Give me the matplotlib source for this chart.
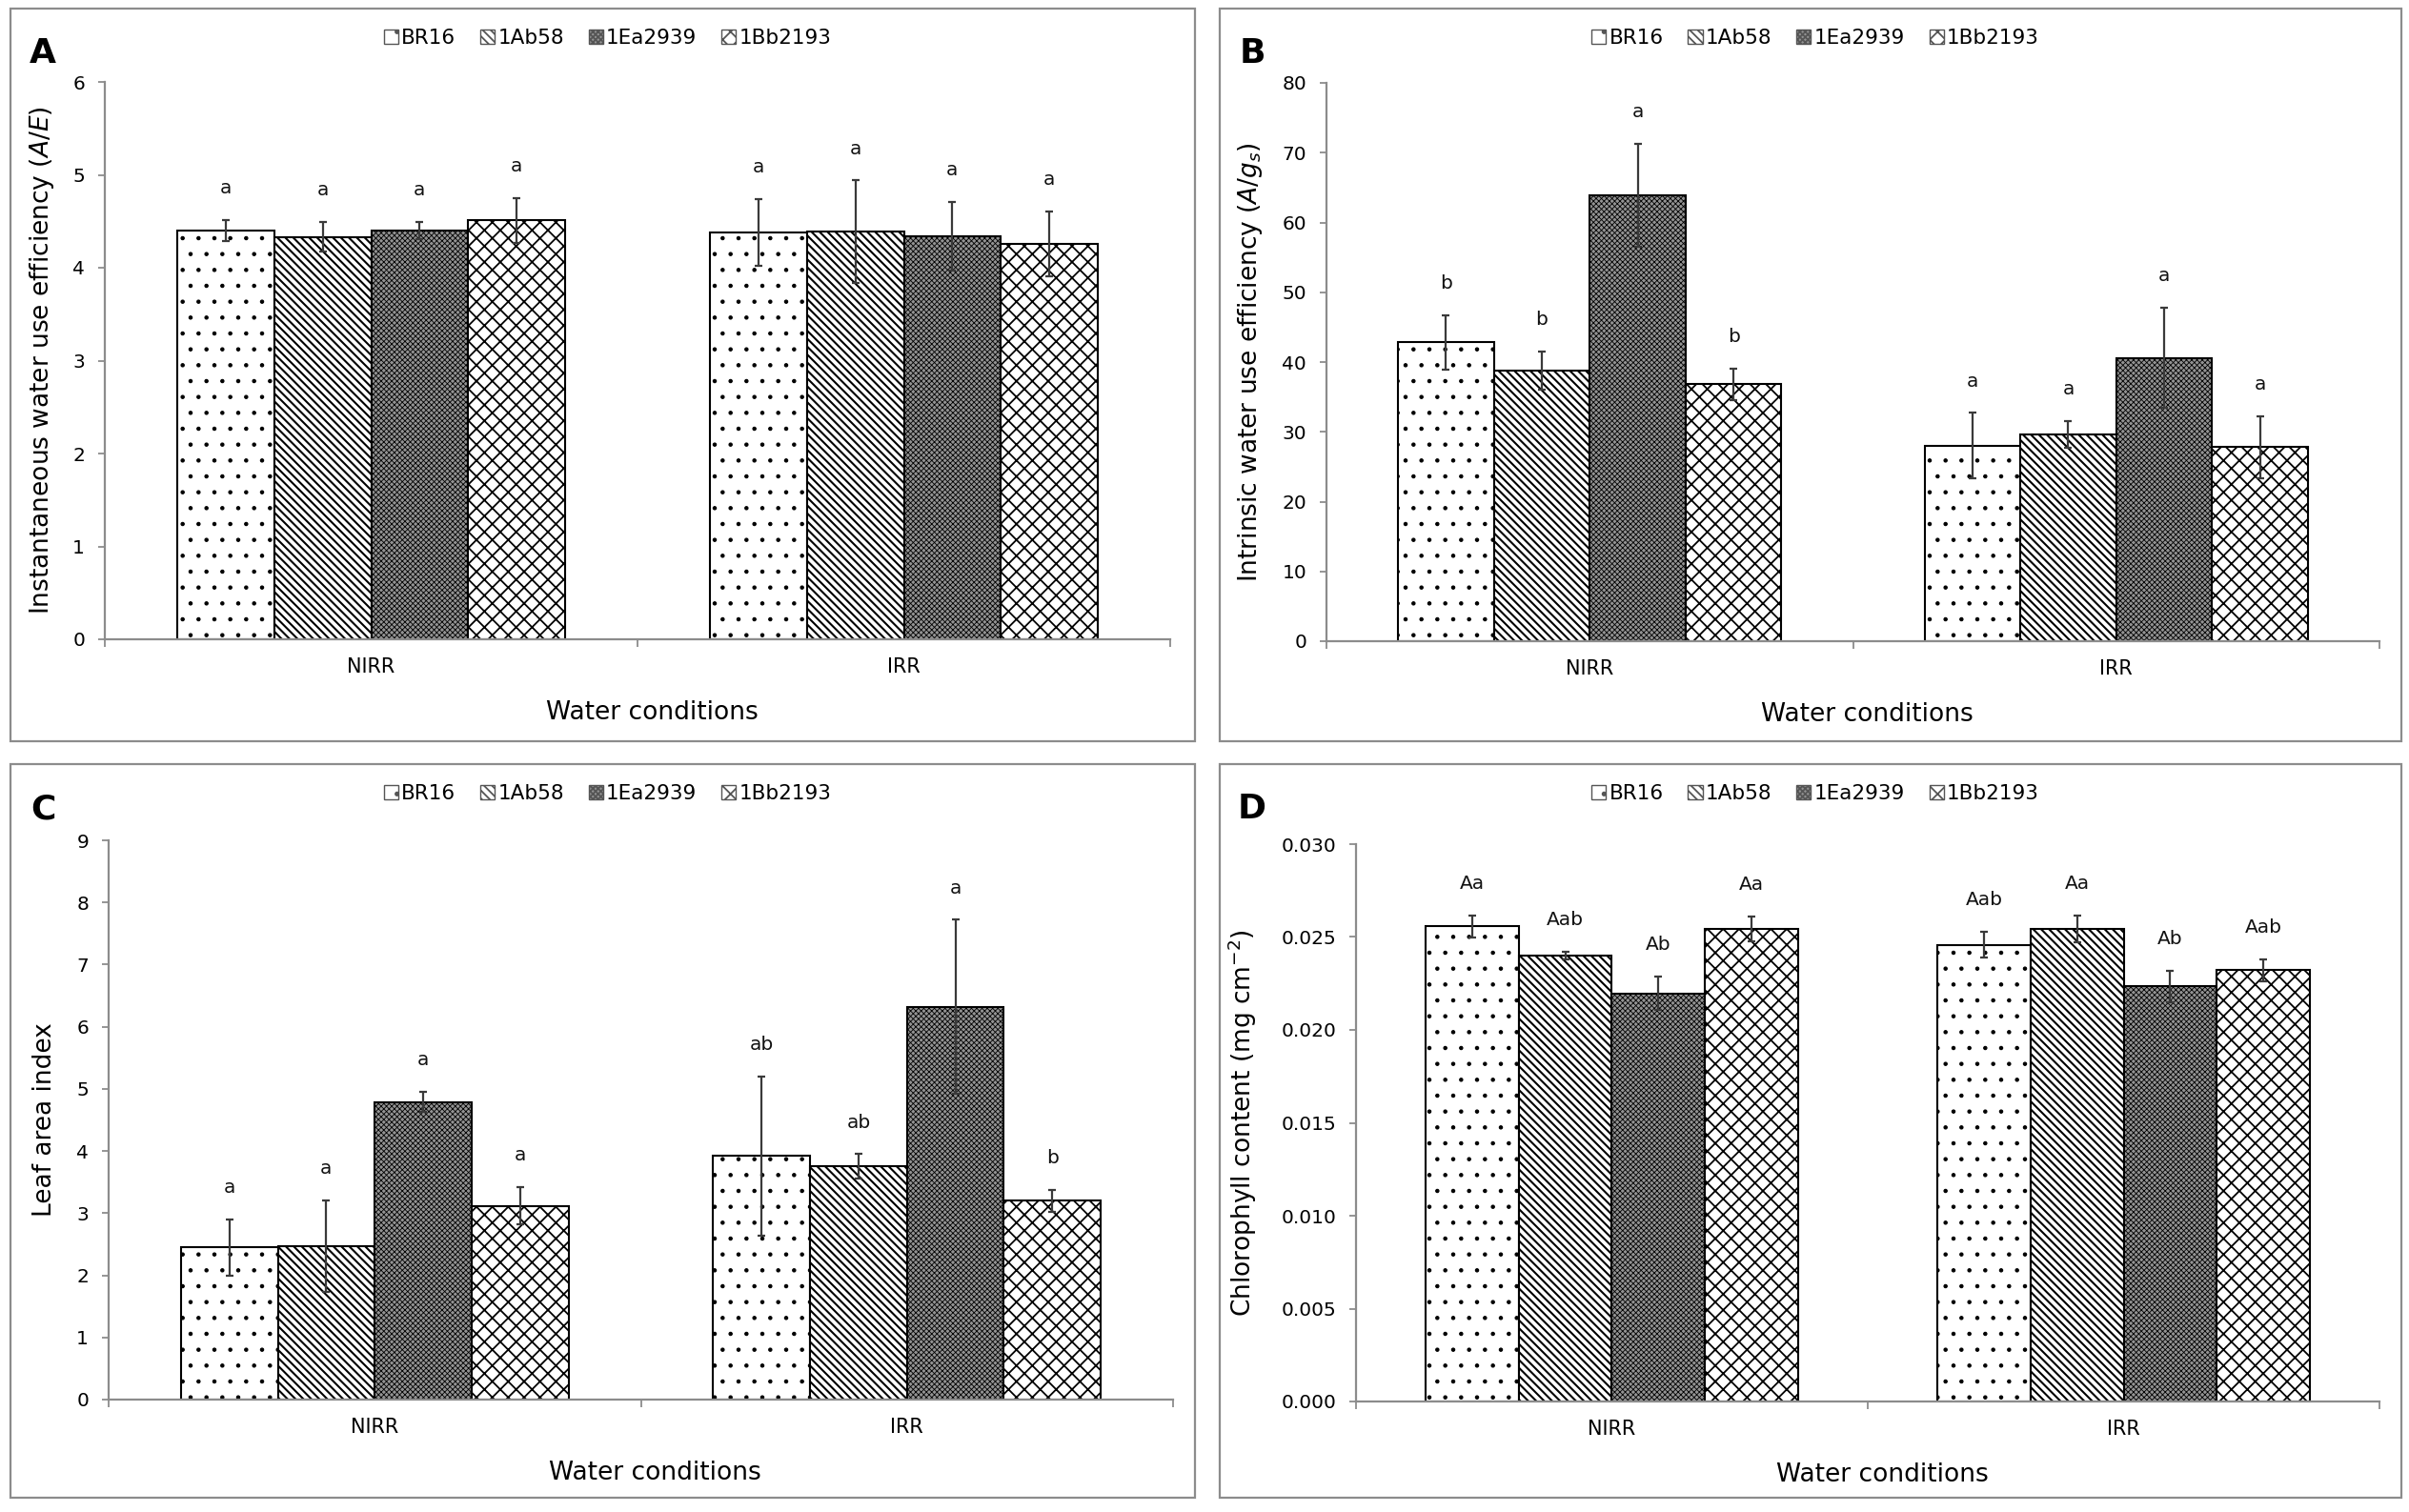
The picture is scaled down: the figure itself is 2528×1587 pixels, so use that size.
import numpy as np
import matplotlib
matplotlib.use('Agg')
import matplotlib.pyplot as plt
from matplotlib.patches import Patch, Rectangle

plt.rcParams['font.family'] = ['DejaVu Sans']
plt.rcParams['mathtext.fontset'] = 'dejavusans'

genotypes = ['BR16', '1Ab58', '1Ea2939', '1Bb2193']
conditions = ['NIRR', 'IRR']

# A - instantaneous WUE, rows = NIRR, IRR
inst_mean = [[4.40, 4.33, 4.40, 4.51], [4.38, 4.39, 4.34, 4.26]]
inst_err = [[0.11, 0.16, 0.09, 0.24], [0.36, 0.55, 0.37, 0.35]]
inst_lett = [['a', 'a', 'a', 'a'], ['a', 'a', 'a', 'a']]

# B - intrinsic WUE
intr_mean = [[42.8, 38.8, 63.9, 36.8], [28.0, 29.6, 40.6, 27.8]]
intr_err = [[3.9, 2.7, 7.4, 2.3], [4.7, 1.9, 7.2, 4.4]]
intr_lett = [['b', 'b', 'a', 'b'], ['a', 'a', 'a', 'a']]

# C - leaf area index
lai_mean = [[2.45, 2.47, 4.79, 3.12], [3.92, 3.75, 6.32, 3.20]]
lai_err = [[0.45, 0.73, 0.16, 0.30], [1.28, 0.20, 1.40, 0.18]]
lai_lett = [['a', 'a', 'a', 'a'], ['ab', 'ab', 'a', 'b']]

# D - chlorophyll
chl_mean = [[0.02557, 0.0240, 0.02196, 0.02544], [0.02458, 0.02544, 0.02235, 0.02321]]
chl_err = [[0.0006, 0.0002, 0.0009, 0.00065], [0.0007, 0.0007, 0.00085, 0.0006]]
chl_lett = [['Aa', 'Aab', 'Ab', 'Aa'], ['Aab', 'Aa', 'Ab', 'Aab']]

W, H = 2528, 1587
fig = plt.figure(figsize=(W / 100, H / 100), dpi=100)

def fx(px):
    return px / W

def fy(py):
    return 1 - py / H

hatches = ['.', '\\\\\\\\', 'xxxxxx', 'xx']
faces = ['white', 'white', '#939393', 'white']
hatch_lw = [0.8, 1.5, 0.6, 1.3]
gray = '#8c8c8c'
w = 0.182

def set_hlw(artists, lw):
    for a in artists:
        if hasattr(a, 'set_hatch_linewidth'):
            a.set_hatch_linewidth(lw)

def panel(box, axpx, letter, mean, err, lett, ymax, ystep, ylabel, yfmt, ylab_x):
    x0, y0, x1, y1 = box
    fig.add_artist(Rectangle((fx(x0), fy(y1)), fx(x1) - fx(x0), fy(y0) - fy(y1),
                             transform=fig.transFigure, fill=False, edgecolor=gray, lw=1.6))
    l, t, r, b = axpx
    ax = fig.add_axes([fx(l), fy(b), fx(r) - fx(l), fy(t) - fy(b)])
    for j in range(4):
        x = np.arange(2) + (j - 1.5) * w
        h = [mean[0][j], mean[1][j]]
        e = [err[0][j], err[1][j]]
        plt.rcParams['hatch.linewidth'] = hatch_lw[j]
        bars = ax.bar(x, h, w, color=faces[j], edgecolor='black', hatch=hatches[j], lw=1.5, zorder=2)
        set_hlw(bars, hatch_lw[j])
        ax.errorbar(x, h, yerr=e, fmt='none', ecolor='#3a3a3a', elinewidth=1.6,
                    capsize=3, capthick=1.6, zorder=3)
        for k in range(2):
            ax.annotate(lett[k][j], (x[k], h[k] + e[k]), xytext=(0, 24),
                        textcoords='offset points', ha='center', va='center',
                        fontsize=14.5, color='#111111')
    ax.set_xlim(-0.5, 1.5)
    ax.set_ylim(0, ymax)
    yt = np.arange(0, ymax + ystep / 2, ystep)
    ax.set_yticks(yt)
    ax.set_yticklabels([yfmt % v for v in yt])
    ax.set_xticks([0, 1])
    ax.set_xticklabels(conditions)
    ax.set_xticks([-0.5, 0.5, 1.5], minor=True)
    ax.tick_params(axis='x', which='major', length=0, pad=14, labelsize=15)
    ax.tick_params(axis='x', which='minor', length=6, color=gray, width=1.3)
    ax.tick_params(axis='y', length=5, color=gray, width=1.3, labelsize=14.5, pad=10)
    for s in ['top', 'right']:
        ax.spines[s].set_visible(False)
    for s in ['left', 'bottom']:
        ax.spines[s].set_color(gray)
        ax.spines[s].set_linewidth(1.6)
    ax.patch.set_alpha(0)
    fig.text(fx((l + r) / 2 + 15), fy(b + 77), 'Water conditions', ha='center', va='center', fontsize=19)
    fig.text(fx(ylab_x), fy((t + b) / 2), ylabel, rotation=90, ha='center', va='center', fontsize=19)
    fig.text(fx(x0 + 34), fy(y0 + 47), letter, ha='center', va='center', fontsize=26, fontweight='bold')
    handles = [Patch(facecolor=faces[j], edgecolor='#555555', hatch=hatches[j], lw=1) for j in range(4)]
    fig.legend(handles, genotypes, loc='center', bbox_to_anchor=(fx((x0 + x1) / 2 + 5), fy(y0 + 31)),
               ncol=4, frameon=False, fontsize=15.5, handlelength=0.7, handleheight=0.7,
               handletextpad=0.15, columnspacing=1.2, borderpad=0)
    return ax

panel((11, 9, 1254, 778), (110, 86, 1228, 671), 'A', inst_mean, inst_err, inst_lett, 6, 1,
      'Instantaneous water use efficiency ($\\mathit{A/E}$)', '%d', 44)
panel((1280, 9, 2520, 778), (1392, 87, 2497, 673), 'B', intr_mean, intr_err, intr_lett, 80, 10,
      'Intrinsic water use efficiency ($\\mathit{A/g}_\\mathit{s}$)', '%d', 1312)
panel((11, 802, 1254, 1572), (114, 882, 1231, 1469), 'C', lai_mean, lai_err, lai_lett, 9, 1,
      'Leaf area index', '%d', 47)
panel((1280, 802, 2520, 1572), (1423, 886, 2497, 1471), 'D', chl_mean, chl_err, chl_lett, 0.030, 0.005,
      'Chlorophyll content (mg cm$^{-2}$)', '%.3f', 1304)

plt.rcParams['hatch.linewidth'] = 1.0
fig.savefig('out.png', dpi=100)
